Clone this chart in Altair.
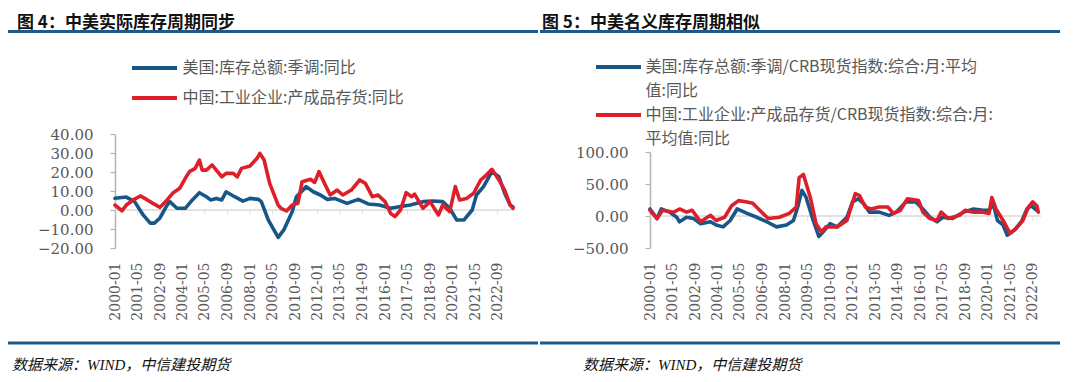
import altair as alt
import pandas as pd

# ---------------- text ----------------
TITLE_L = "图 4：中美实际库存周期同步"
TITLE_R = "图 5：中美名义库存周期相似"
SOURCE = "数据来源：WIND，中信建投期货"

TICK_LABELS = ["2000-01", "2001-05", "2002-09", "2004-01", "2005-05", "2006-09",
               "2008-01", "2009-05", "2010-09", "2012-01", "2013-05", "2014-09",
               "2016-01", "2017-05", "2018-09", "2020-01", "2021-05", "2022-09"]

US_L_NAME = "美国:库存总额:季调:同比"
CN_L_NAME = "中国:工业企业:产成品存货:同比"
US_R_LINES = ["美国:库存总额:季调/CRB现货指数:综合:月:平均", "值:同比"]
CN_R_LINES = ["中国:工业企业:产成品存货/CRB现货指数:综合:月:", "平均值:同比"]

# ---------------- data (month offset from 2000-01, value %) ----------------
US_L_M = [0, 8, 14, 20, 25, 28, 32, 37, 39, 44, 50, 55, 60, 65, 68, 72, 76, 79, 85, 91,
          96, 102, 104, 109, 116, 120, 126, 129, 136, 141, 146, 151, 156, 165, 173, 180, 188, 196, 203, 210,
          219, 226, 233, 238, 243, 248, 254, 257, 262, 268, 273, 277, 281, 283]
US_L_V = [6.2, 6.8, 4.4, -2.6, -6.9, -6.9, -4.2, 2.6, 4.4, 0.9, 0.9, 5.3, 9.1, 7.0, 5.3, 6.1, 5.3, 9.6, 7.0, 4.7,
          6.1, 5.6, 4.4, -5.3, -14.4, -10.5, -0.9, 7.0, 12.3, 9.6, 7.9, 5.6, 6.1, 3.5, 5.6, 3.2, 2.6, 0.9, 1.8, 2.6,
          4.4, 4.7, 4.4, 0.9, -5.3, -5.3, 0.0, 7.9, 12.3, 20.2, 17.5, 8.8, 2.6, 1.6]

CN_L_M = [0, 5, 8, 13, 18, 23, 27, 32, 37, 41, 46, 50, 53, 57, 60, 62, 65, 69, 72, 76,
          79, 84, 87, 90, 96, 101, 103, 106, 110, 116, 118, 122, 126, 130, 133, 139, 142, 145, 149, 153,
          158, 162, 168, 174, 178, 183, 187, 192, 196, 199, 203, 207, 211, 213, 219, 224, 230, 233, 238, 242,
          245, 250, 255, 260, 264, 268, 273, 277, 281, 283]
CN_L_V = [2.6, -0.4, 2.6, 5.3, 7.4, 5.3, 3.5, 1.4, 5.3, 8.8, 11.4, 16.7, 20.2, 21.9, 26.3, 21.0, 21.0, 23.7, 21.0, 17.5,
          19.3, 19.3, 17.5, 21.9, 23.2, 27.2, 29.8, 26.3, 14.0, 2.6, 0.9, -0.5, 2.6, 3.5, 14.9, 16.2, 14.5, 20.2, 14.0, 7.9,
          10.5, 7.9, 10.5, 15.8, 14.0, 7.0, 7.9, 4.4, -1.8, -3.5, 0.0, 9.1, 7.0, 8.4, 0.9, 4.4, -2.6, 2.6, -0.9, 12.3,
          5.3, 6.1, 8.8, 15.8, 18.4, 21.4, 15.8, 10.5, 2.6, 0.9]

US_R_M = [0, 5, 8, 14, 19, 21, 26, 31, 36, 43, 47, 52, 57, 62, 69, 76, 83, 90, 97, 102,
          105, 108, 111, 116, 120, 123, 128, 133, 140, 144, 148, 152, 156, 163, 170, 175, 182, 189, 194, 199,
          204, 208, 215, 223, 230, 237, 241, 244, 247, 251, 254, 259, 264, 268, 271, 275]
US_R_V = [11, -4, 11, 6, -2, -9, -2, -4, -12, -9, -14, -17, -7, 11, 4, -2, -9, -17, -14, -7,
          14, 40, 29, -7, -32, -25, -12, -17, -2, 22, 27, 19, 6, 6, 1, 6, 22, 22, 11, -2,
          -9, -2, -4, 6, 11, 9, 9, 19, -7, -14, -30, -22, -9, 11, 16, 9]

CN_R_M = [0, 5, 9, 17, 21, 26, 30, 36, 43, 47, 53, 58, 63, 69, 73, 78, 84, 92, 99, 104,
          106, 109, 114, 118, 122, 125, 133, 140, 146, 149, 153, 157, 163, 169, 173, 178, 183, 191, 194, 199,
          204, 207, 212, 220, 224, 230, 237, 241, 243, 246, 251, 256, 260, 265, 269, 272, 275, 276]
CN_R_V = [9, -4, 9, 6, 11, 6, 9, -9, 1, -7, -2, 16, 24, 22, 20, 9, -4, -2, 4, 14,
          60, 65, 29, -12, -25, -17, -17, -7, 35, 32, 14, 11, 14, 14, 4, 9, 27, 24, 6, -4,
          -7, 6, -4, 1, 9, 6, 6, 4, 29, 11, -7, -27, -20, -7, 14, 22, 16, 6]

Y_L_TICKS = [-20, -10, 0, 10, 20, 30, 40]
Y_R_TICKS = [-50, 0, 50, 100]

# ---------------- styling ----------------
BLUE = "#175788"
RED = "#dc1f29"
RULE_BLUE = "#1d5a8a"
AXIS_GRAY = "#b4b4b4"
ZERO_GRAY = "#d9d9d9"
TXT_GRAY = "#595959"
CJK = "Noto Sans CJK SC"
SERIF = "DejaVu Serif"


def ym(m):
    return f"{2000 + m // 12}/{m % 12 + 1:02d}/01"


def lbl_date(s):
    return f"{s[:4]}/{s[5:]}/01"


tick_dt = [alt.DateTime(year=int(s[:4]), month=int(s[5:]), date=1) for s in TICK_LABELS]


def frame(months, values, name):
    return pd.DataFrame({"date": [ym(m) for m in months], "value": values, "series": name})


df_left = pd.concat([frame(US_L_M, US_L_V, US_L_NAME), frame(CN_L_M, CN_L_V, CN_L_NAME)])
df_right = pd.concat([frame(US_R_M, US_R_V, US_R_LINES[0]), frame(CN_R_M, CN_R_V, CN_R_LINES[0])])


def panel(df, x_end, x_range, y_dom, y_range, y_ticks, y_off, color_dom, color_rng,
          leg_x, leg_y, row_pad, lab_off):
    xs = alt.Scale(domain=[alt.DateTime(year=2000, month=1, date=1), x_end], range=x_range, nice=False)
    ys = alt.Scale(domain=y_dom, range=y_range, nice=False, zero=False)
    zero_df = pd.DataFrame({"start": ["2000/01/01"], "end": [f"{x_end.year}/{x_end.month:02d}/01"], "v": [0]})
    ticks_df = pd.DataFrame({"date": [lbl_date(s) for s in TICK_LABELS], "v": 0})

    zero = alt.Chart(zero_df).mark_rule(color=ZERO_GRAY, strokeWidth=1.5).encode(
        x=alt.X("start:T", scale=xs, axis=None), x2="end:T",
        y=alt.Y("v:Q", scale=ys, axis=None))
    ticks = alt.Chart(ticks_df).mark_tick(orient="vertical", size=5, thickness=1,
                                          yOffset=2.5, color=ZERO_GRAY).encode(
        x=alt.X("date:T", scale=xs, axis=None),
        y=alt.Y("v:Q", scale=ys, axis=None))
    lines = alt.Chart(df).mark_line(strokeWidth=3.6, strokeJoin="round", strokeCap="round").encode(
        x=alt.X("date:T", scale=xs, title=None,
                axis=alt.Axis(orient="bottom", offset=-116, values=tick_dt, format="%Y-%m",
                              labelAngle=270, domain=False, ticks=False, grid=False,
                              labelPadding=4, labelFont=SERIF, labelFontSize=14, labelColor=TXT_GRAY,
                              labelOverlap=False, labelFlush=False)),
        y=alt.Y("value:Q", scale=ys, title=None,
                axis=alt.Axis(orient="left", offset=y_off, values=y_ticks, format=".2f", grid=False,
                              domain=True, domainColor=AXIS_GRAY, domainWidth=1.5,
                              tickColor=AXIS_GRAY, tickSize=5, tickWidth=1.2,
                              labelPadding=17, labelFont=SERIF, labelFontSize=15, labelColor=TXT_GRAY,
                              labelOverlap=False, labelFlush=False)),
        color=alt.Color("series:N", scale=alt.Scale(domain=color_dom, range=color_rng),
                        legend=alt.Legend(orient="none", legendX=leg_x, legendY=leg_y, title=None,
                                          direction="vertical", padding=0,
                                          symbolType="M-2.5,0H2.5", symbolSize=324,
                                          symbolStrokeWidth=4, symbolOffset=13.5,
                                          labelOffset=lab_off, rowPadding=row_pad,
                                          labelFont=CJK, labelFontSize=16, labelColor=TXT_GRAY,
                                          labelLimit=800)),
    )
    return [zero, ticks, lines]


left = panel(df_left, alt.DateTime(year=2023, month=8, date=1), [107, 505], [-20, 40], [240, 126],
             Y_L_TICKS, -107, [US_L_NAME, CN_L_NAME], [BLUE, RED], 122, 49, 11, 17)
right = panel(df_right, alt.DateTime(year=2023, month=3, date=1), [642, 1033], [-50, 100], [240, 144],
              Y_R_TICKS, -642, US_R_LINES + CN_R_LINES, [BLUE, "transparent", RED, "transparent"],
              586, 48, 5, 16)

one = pd.DataFrame({"a": [0]})


def txt(t, x, y, baseline="middle", **kw):
    return alt.Chart(pd.DataFrame({"t": [t]})).mark_text(align="left", baseline=baseline, **kw).encode(
        x=alt.value(x), y=alt.value(y), text="t:N")


def hrule(x1, x2, y):
    return alt.Chart(one).mark_rule(color=RULE_BLUE, strokeWidth=3).encode(
        x=alt.value(x1), x2=alt.value(x2), y=alt.value(y))


decor = [
    txt(TITLE_L, 9, 6.5, baseline="top", font=CJK, fontSize=17, fontWeight="bold", color="#111111"),
    txt(TITLE_R, 534, 6.5, baseline="top", font=CJK, fontSize=17, fontWeight="bold", color="#111111"),
    hrule(0, 530, 23.5), hrule(532, 1052, 23.5),
    hrule(0, 530, 335), hrule(532, 1052, 335),
    txt(SOURCE, 4, 357, font="Liberation Serif, " + CJK, fontSize=15, fontStyle="italic", color="#111111"),
    txt(SOURCE, 575, 357, font="Liberation Serif, " + CJK, fontSize=15, fontStyle="italic", color="#111111"),
]

chart = alt.layer(*left, *right, *decor).resolve_scale(
    x="independent", y="independent", color="independent"
).resolve_axis(x="independent", y="independent").resolve_legend(color="independent").properties(
    width=1064, height=366, autosize=alt.AutoSizeParams(type="none"), padding=0
).configure_view(stroke=None)

chart.save("out.html", embed_options={"renderer": "svg", "actions": False})
